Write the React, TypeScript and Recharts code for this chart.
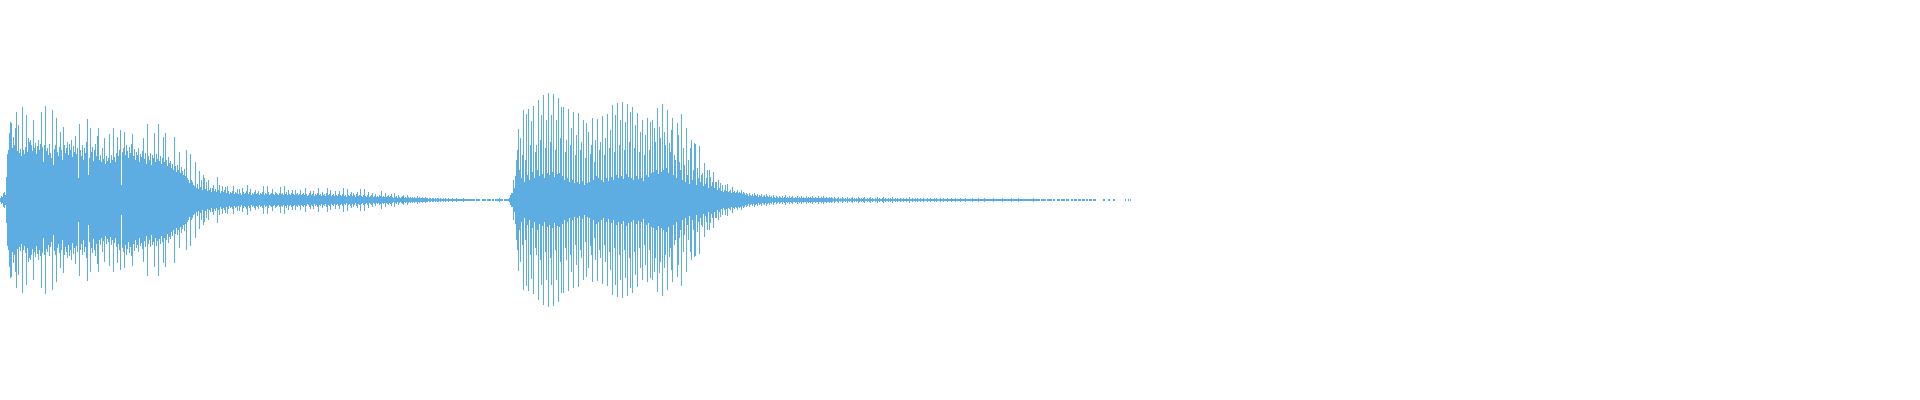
import { BarChart, Bar, XAxis, YAxis } from "recharts";

// half-heights of each 1px column (px above/below centre)
const onset = [2, 4, 3, 7, 8, 5, 23, 46];

const firstBurst = [
  50, 67, 78, 77, 52, 63, 55, 72, 88, 49,
  75, 47, 51, 44, 93, 50, 46, 53, 85, 48,
  62, 58, 60, 55, 49, 80, 52, 57, 46, 54,
  60, 50, 56, 88, 53, 38, 55, 94, 49, 52,
  45, 56, 47, 42, 90, 35, 51, 55, 82, 48,
  44, 53, 68, 50, 40, 73, 55, 47, 52, 58,
  45, 56, 50, 60, 43, 54, 48, 64, 46, 52,
  22, 76, 50, 44, 55, 40, 52, 47, 58, 81,
  25, 42, 72, 48, 53, 39, 50, 56, 44, 64,
  72, 40, 45, 38, 52, 41, 62, 36, 44, 39,
  42, 66, 37, 45, 40, 72, 43, 38, 47, 63,
  44, 50, 70, 15, 48, 52, 68, 45, 55, 49,
  42, 53, 47, 56, 66, 44, 51, 40, 48, 45,
  52, 38, 46, 43, 49, 62, 41, 47, 36, 76,
  44, 40, 47, 35, 45, 42, 67, 38, 46, 41,
  76, 39, 44, 36, 42, 63, 38, 67, 40, 34,
  43, 37, 39, 32, 36, 30, 63, 34, 28, 35,
  30, 48, 27, 33, 29, 25, 31, 24, 50, 22,
  20, 17,
];

const firstTail = [
  46, 20, 18, 15, 14, 38, 12, 16, 11, 29,
  13, 20, 10, 25, 22, 11, 18, 9, 20, 10,
  12, 8, 12, 15, 9, 11, 8, 23, 10, 15,
  7, 9, 14, 8, 10, 13, 7, 14, 9, 6,
  8, 7, 9, 14, 6, 8, 7, 11, 6, 11,
  7, 5, 12, 8, 6, 7, 9, 15, 6, 8,
  11, 5, 7, 6, 8, 10, 6, 7, 9, 5,
  7, 6, 8, 14, 5, 7, 6, 14, 8, 5,
  6, 7, 11, 6, 5, 8, 7, 6, 5, 7,
  13, 6, 7, 5, 14, 6, 8, 5, 10, 6,
  5, 7, 10, 6, 5, 10, 6, 7, 5, 6,
  10, 5, 6, 7, 5, 12, 6, 4, 5, 7,
  9, 5, 6, 9, 4, 6, 5, 7, 12, 5,
  6, 4, 8, 5, 6, 4, 7, 12, 5, 6,
  10, 4, 5, 6, 4, 9, 5, 4, 6, 9,
  5, 4, 6, 12, 4, 5, 3, 11, 5, 4,
  6, 8, 4, 7, 5, 3, 6, 8, 4, 5,
  11, 4, 3, 5, 11, 4, 3, 5, 8, 3,
  4, 5, 7, 3, 4, 6, 3, 4, 3, 5,
  4, 9, 3, 4, 3, 7, 3, 4, 5, 3,
  4, 6, 3, 2, 7, 3, 4, 2, 5, 3,
  2, 3, 4, 5, 2, 3, 2, 5, 3, 2,
  3, 2, 3, 2, 3, 2, 2, 4, 2, 3,
  2, 2, 3, 2, 2, 3, 2, 2, 1, 2,
  2, 1, 2, 2, 1, 2, 1, 2, 2, 1,
  2, 1, 1, 2, 1, 2, 1, 1, 2, 1,
  1, 1, 2, 1, 1, 1, 2, 1, 1, 1,
  1, 1, 1, 2, 1, 1, 1, 1, 1, 1,
  1, 1, 1, 1, 1, 0, 1, 1, 1, 1,
  0, 0, 1, 1, 1, 1, 0, 1, 1, 1,
  1, 0, 1, 1, 0, 1, 1, 1, 1, 2,
  1, 1, 1, 0, 1, 1, 1, 1, 1, 2,
];

const secondBurst = [
  5, 7, 7, 20, 12,
  24, 40, 50, 71, 30,
  62, 22, 45, 90, 18,
  40, 86, 25, 91, 20,
  55, 79, 28, 94, 22,
  48, 55, 30, 100, 24,
  60, 85, 26, 105, 22,
  52, 80, 27, 107, 25,
  58, 85, 28, 106, 23,
  50, 80, 26, 102, 27,
  62, 93, 24, 93, 20,
  48, 60, 22, 91, 18,
  55, 72, 20, 88, 17,
  45, 65, 18, 87, 16,
  50, 58, 19, 80, 15,
  42, 77, 17, 68, 18,
  46, 55, 82, 20, 38,
  60, 24, 81, 22, 50,
  58, 20, 84, 18, 45,
  62, 22, 86, 19, 52,
  70, 23, 95, 20, 48,
  85, 25, 97, 22, 55,
  80, 24, 98, 21, 50,
  78, 26, 96, 23, 58,
  88, 22, 93, 20, 52,
  75, 24, 87, 21, 48,
  68, 22, 80, 19, 45,
  65, 25, 82, 23, 50,
  78, 27, 80, 28, 72,
  58, 30, 92, 26, 73,
  62, 28, 96, 30, 68,
  55, 32, 90, 27, 57,
  48, 70, 82, 25, 45,
  40, 22, 77, 65, 38,
  30, 86, 20, 52, 35,
  18, 72, 25, 40, 16,
  52, 60, 20, 30, 57,
  56, 15, 32, 22, 54,
  18, 25, 27, 14, 37,
  16, 22, 30, 12, 30,
  23, 14, 18, 28, 12,
  18, 18, 10, 20, 12,
];

const secondTail = [
  17, 9, 15, 8, 10, 15, 9, 16, 8, 9,
  10, 7, 13, 8, 9, 7, 8, 10, 7, 8,
  7, 10, 6, 8, 7, 5, 7, 6, 4, 7,
  5, 4, 6, 4, 7, 5, 4, 6, 3, 5,
  4, 6, 3, 4, 5, 3, 6, 4, 3, 5,
  3, 4, 2, 5, 3, 2, 4, 3, 2, 4,
  3, 2, 4, 2, 3, 5, 2, 3, 2, 4,
  2, 3, 4, 2, 2, 3, 2, 4, 2, 3,
  2, 4, 2, 3, 2, 2, 4, 2, 3, 2,
  3, 2, 4, 2, 2, 3, 2, 2, 4, 2,
  2, 3, 2, 4, 2, 2, 3, 2, 2, 3,
  2, 3, 2, 1, 3, 2, 1, 2, 3, 1,
  2, 1, 3, 2, 1, 2, 1, 3, 1, 2,
  1, 2, 3, 1, 2, 1, 2, 1, 3, 2,
  1, 2, 1, 2, 3, 1, 1, 2, 1, 2,
  3, 1, 2, 1, 1, 2, 1, 3, 1, 2,
  1, 1, 2, 3, 1, 2, 1, 1, 2, 1,
  2, 1, 3, 1, 1, 2, 1, 2, 1, 1,
  2, 1, 1, 2, 1, 1, 2, 1, 1, 3,
  1, 1, 2, 1, 1, 2, 1, 2, 1, 1,
  2, 1, 1, 2, 1, 1, 1, 2, 1, 1,
  2, 1, 1, 1, 2, 1, 2, 1, 1, 1,
  2, 1, 1, 2, 1, 1, 1, 2, 1, 1,
  1, 2, 1, 1, 1, 2, 1, 1, 1, 1,
  2, 1, 1, 1, 1, 2, 1, 1, 1, 1,
  1, 1, 2, 1, 1, 1, 1, 1, 2, 1,
  1, 1, 1, 1, 2, 1, 1, 1, 1, 1,
  1, 1, 1, 2, 1, 1, 1, 1, 1, 1,
  1, 1, 2, 1, 1, 1, 1, 1, 1, 1,
  1, 2, 1, 1, 1, 1, 1, 1, 2, 1,
  1, 1, 1, 1, 1, 1, 1, 1, 1, 1,
  1, 1, 1, 2, 1, 1, 1, 1, 1, 1,
  0, 1, 1, 1, 1, 1, 0, 1, 1, 1,
  1, 1, 0, 1, 1, 0, 0, 1, 1, 1,
  0, 1, 1, 1, 1, 0, 1, 1, 1, 0,
  0, 1, 1, 0, 1, 1, 1, 0, 1, 1,
  1, 0, 1, 1, 1, 0, 1, 1, 0, 1,
  1, 1, 0, 1, 1, 1, 0, 0, 0, 0,
  0, 0, 0, 1, 1, 0, 0, 0, 1, 1,
  0, 0, 0, 1, 1, 0, 0, 0, 0, 0,
  0, 0, 0, 0, 0, 1, 0, 0, 1, 0,
  1,
];

const WAVE_COLOR = "#5DADE2";

const amplitudes = [...onset, ...firstBurst, ...firstTail, ...secondBurst, ...secondTail];
const data = amplitudes.map((amp, i) => ({ i, amp }));

// snap each column to a whole pixel so the bars don't blur into each other
function Column(props: any) {
  const { x, y, height, fill } = props;
  if (!height) return null;
  return (
    <rect
      x={Math.round(x)}
      y={Math.round(y)}
      width={1}
      height={Math.round(height)}
      fill={fill}
      shapeRendering="crispEdges"
    />
  );
}

export default function App() {
  return (
    <div style={{ position: "absolute", left: 0, top: 0, width: 1920, height: 400, background: "#fff" }}>
      <BarChart
        width={data.length}
        height={400}
        data={data}
        margin={{ top: 0, right: 0, left: 0, bottom: 0 }}
        barCategoryGap={0}
        barGap={0}
      >
        <XAxis dataKey="i" hide />
        <YAxis hide domain={[-200, 200]} allowDataOverflow />
        <Bar
          dataKey={(d: { amp: number }) => [-d.amp, d.amp]}
          fill={WAVE_COLOR}
          barSize={1}
          shape={Column}
          isAnimationActive={false}
        />
      </BarChart>
    </div>
  );
}
